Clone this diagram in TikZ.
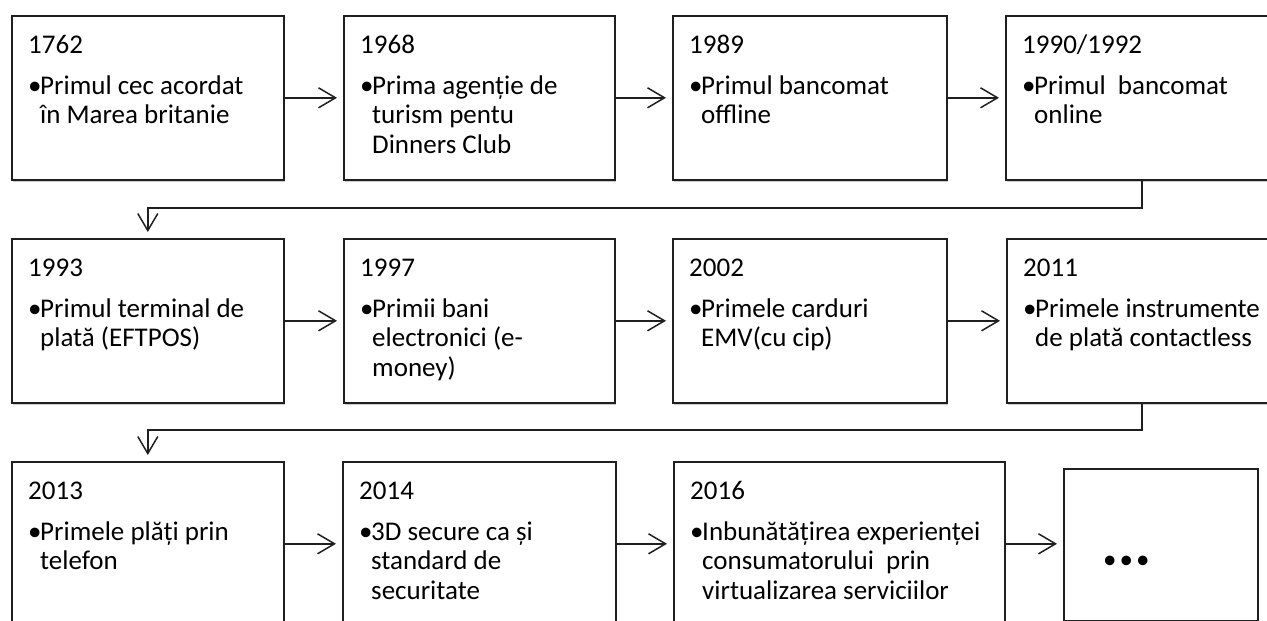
\documentclass[tikz,border=0pt]{standalone}
\usepackage{fontspec}
\setmainfont{Carlito}
\usetikzlibrary{arrows.meta,shadows,calc}
\newcommand\boxfont{\fontsize{27}{29.5}\selectfont}
\newcommand\itemlines[1]{\makebox[12pt][l]{\textbullet}\begin{tabular}[t]{@{}l@{}}#1\end{tabular}}
\begin{document}
\begin{tikzpicture}[x=1pt,y=-1pt,
  box/.style={draw=black!88, line width=1.6pt, fill=white, inner sep=0pt, anchor=north west,
    drop shadow={shadow xshift=1pt, shadow yshift=-2pt, opacity=0.2, fill=black}},
  txt/.style={anchor=base west, inner sep=0pt, font=\boxfont},
  arr/.style={draw=black!88, line width=1.5pt, -{Straight Barb[length=17pt,width=20pt,line width=1.5pt]}, shorten >=6pt}
]
\useasboundingbox (0,0) rectangle (1267,621);
% boxes
\node[box, minimum width=272pt, minimum height=164pt] (b1) at (11,15) {};
\node[box, minimum width=271pt, minimum height=164pt] (b2) at (343,15) {};
\node[box, minimum width=274pt, minimum height=164pt] (b3) at (672,15) {};
\node[box, minimum width=290pt, minimum height=164pt] (b4) at (1005,15) {};
\node[box, minimum width=272pt, minimum height=164pt] (b5) at (11,238) {};
\node[box, minimum width=271pt, minimum height=164pt] (b6) at (343,238) {};
\node[box, minimum width=274pt, minimum height=164pt] (b7) at (672,238) {};
\node[box, minimum width=290pt, minimum height=164pt] (b8) at (1006,238) {};
\node[box, minimum width=272pt, minimum height=164pt] (b9) at (11,461) {};
\node[box, minimum width=273pt, minimum height=164pt] (b10) at (342,461) {};
\node[box, minimum width=331pt, minimum height=164pt] (b11) at (673,461) {};
\node[box, minimum width=194pt, minimum height=152pt] (b12) at (1063,468) {};
% texts
\node[txt] (y1) at ([shift={(17,38)}]b1.north west) {1762};
\node[txt] (t1) at ([shift={(17,79)}]b1.north west) {\itemlines{Primul cec acordat\\în Marea britanie}};
\node[txt] (y2) at ([shift={(17,38)}]b2.north west) {1968};
\node[txt] (t2) at ([shift={(17,79)}]b2.north west) {\itemlines{Prima agenție de\\turism pentu\\Dinners Club}};
\node[txt] (y3) at ([shift={(17,38)}]b3.north west) {1989};
\node[txt] (t3) at ([shift={(17,79)}]b3.north west) {\itemlines{Primul bancomat\\offline}};
\node[txt] (y4) at ([shift={(17,38)}]b4.north west) {1990/1992};
\node[txt] (t4) at ([shift={(17,79)}]b4.north west) {\itemlines{Primul\ \ bancomat\\online}};
\node[txt] (y5) at ([shift={(17,38)}]b5.north west) {1993};
\node[txt] (t5) at ([shift={(17,79)}]b5.north west) {\itemlines{Primul terminal de\\plată (EFTPOS)}};
\node[txt] (y6) at ([shift={(17,38)}]b6.north west) {1997};
\node[txt] (t6) at ([shift={(17,79)}]b6.north west) {\itemlines{Primii bani\\electronici (e-\\money)}};
\node[txt] (y7) at ([shift={(17,38)}]b7.north west) {2002};
\node[txt] (t7) at ([shift={(17,79)}]b7.north west) {\itemlines{Primele carduri\\EMV(cu cip)}};
\node[txt] (y8) at ([shift={(17,38)}]b8.north west) {2011};
\node[txt] (t8) at ([shift={(17,79)}]b8.north west) {\itemlines{Primele instrumente\\de plată contactless}};
\node[txt] (y9) at ([shift={(17,38)}]b9.north west) {2013};
\node[txt] (t9) at ([shift={(17,79)}]b9.north west) {\itemlines{Primele plăți prin\\telefon}};
\node[txt] (y10) at ([shift={(17,38)}]b10.north west) {2014};
\node[txt] (t10) at ([shift={(17,79)}]b10.north west) {\itemlines{3D secure ca și\\standard de\\securitate}};
\node[txt] (y11) at ([shift={(17,38)}]b11.north west) {2016};
\node[txt] (t11) at ([shift={(17,79)}]b11.north west) {\itemlines{Inbunătățirea experienței\\consumatorului\ \ prin\\virtualizarea serviciilor}};
\node[txt] (dots) at (1103,568) {\textbullet\hspace{3pt}\textbullet\hspace{3pt}\textbullet};
% connectors
\draw[arr] (b1.east) -- (b2.west);
\draw[arr] (b2.east) -- (b3.west);
\draw[arr] (b3.east) -- (b4.west);
\draw[arr] (b5.east) -- (b6.west);
\draw[arr] (b6.east) -- (b7.west);
\draw[arr] (b7.east) -- (b8.west);
\draw[arr] (b9.east) -- (b10.west);
\draw[arr] (b10.east) -- (b11.west);
\draw[arr] (b11.east) -- (b11.east -| b12.west);
\coordinate (c1) at (1142,208);
\coordinate (c2) at (1142,430);
\draw[arr] (b4.south -| c1) -- (c1) -| (b5.north);
\draw[arr] (b8.south -| c2) -- (c2) -| (b9.north);
\end{tikzpicture}
\end{document}
